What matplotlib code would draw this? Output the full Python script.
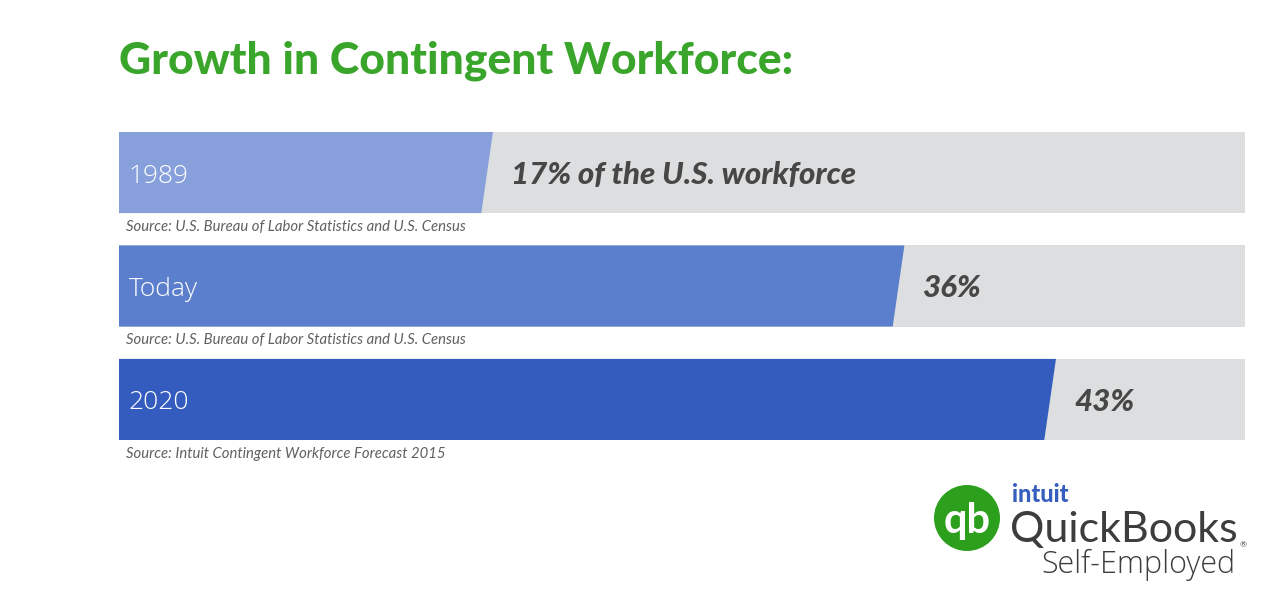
import matplotlib
matplotlib.use("Agg")
import matplotlib.pyplot as plt
from matplotlib.patches import Polygon, Circle
from matplotlib.transforms import IdentityTransform

categories = ["1989", "Today", "2020"]
values = [17, 36, 43]
value_labels = ["17% of the U.S. workforce", "36%", "43%"]
sources = ["Source: U.S. Bureau of Labor Statistics and U.S. Census",
           "Source: U.S. Bureau of Labor Statistics and U.S. Census",
           "Source: Intuit Contingent Workforce Forecast 2015"]
title = "Growth in Contingent Workforce:"
full_scale = 52.0

bar_colors = ["#87a0dc", "#5c7fcd", "#345cbf"]
track_color = "#dcdedf"
W, H = 1274, 616
fig = plt.figure(figsize=(W / 100, H / 100), dpi=100)
fig.patch.set_facecolor("white")

ax = fig.add_axes([119 / W, (H - 440) / H, 1126 / W, 308 / H])
bar_h = 0.715
ax.set_xlim(0, full_scale)
ax.set_ylim(2 + bar_h / 2, -bar_h / 2)
ax.axis("off")

slant = 0.27
for i, (cat, v) in enumerate(zip(categories, values)):
    top, bot = i - bar_h / 2, i + bar_h / 2
    ax.add_patch(Polygon([(0, top), (full_scale, top), (full_scale, bot), (0, bot)],
                         closed=True, facecolor=track_color, edgecolor="none"))
    ax.add_patch(Polygon([(0, top), (v + slant, top), (v - slant, bot), (0, bot)],
                         closed=True, facecolor=bar_colors[i], edgecolor="none"))
    ax.annotate(cat, (0, i), xytext=(7, -2.5), textcoords="offset points",
                ha="left", va="center", color="white", fontsize=19,
                family="Open Sans", fontweight=300)
    ax.annotate(value_labels[i], (v, i), xytext=(17.3, -1.5), textcoords="offset points",
                ha="left", va="center", color="#474747", fontsize=22.5,
                family="Lato", fontweight="black", fontstyle="italic")
    ax.annotate(sources[i], (0, bot), xytext=(5, -10), textcoords="offset points",
                ha="left", va="center", color="#606060", fontsize=10.7,
                family="Lato", fontstyle="italic", annotation_clip=False)

fig.text(119 / W, 1 - 61 / H, title, ha="left", va="center", color="#3aa52b",
         fontsize=32, family="Lato", fontweight="black")

# logo
circ = Circle((967, H - 518), 33, transform=IdentityTransform(),
              facecolor="#2ca01c", edgecolor="none")
fig.patches.append(circ)
fig.text(967 / W, 1 - 521 / H, "qb", ha="center", va="center", color="white",
         fontsize=30, family="Lato", fontweight="bold")
fig.text(1012 / W, 1 - 494 / H, "intuit", ha="left", va="center", color="#365ebf",
         fontsize=17, family="Lato", fontweight="black")
fig.text(1010 / W, 1 - 530 / H, "QuickBooks", ha="left", va="center", color="#3d3d3d",
         fontsize=31, family="Lato", fontweight="normal")
fig.text(1240 / W, 1 - 545 / H, "®", ha="left", va="center", color="#3d3d3d",
         fontsize=6, family="Lato")
fig.text(1041 / W, 1 - 565 / H, "Self-Employed", ha="left", va="center", color="#3d3d3d",
         fontsize=22, family="Open Sans", fontweight=300)

fig.savefig("out.png", dpi=100, facecolor="white")
